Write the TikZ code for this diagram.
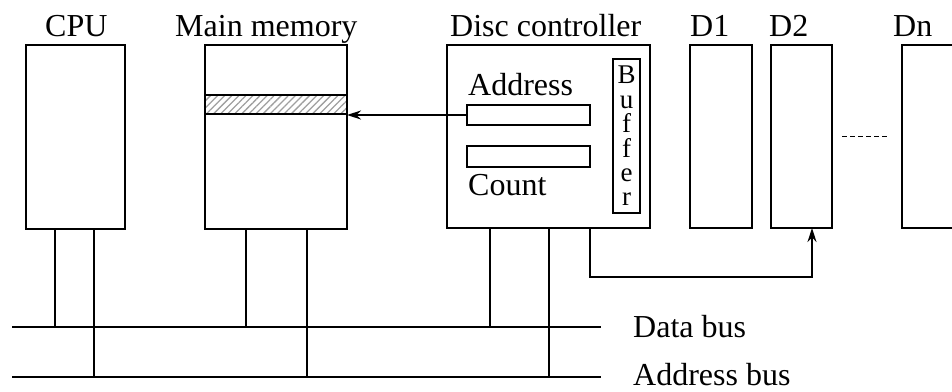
\documentclass[tikz,border=0pt]{standalone}
\usepackage{fontspec}
\setmainfont{Liberation Serif}
\usetikzlibrary{arrows.meta,patterns.meta}
\begin{document}
\begin{tikzpicture}[x=1pt,y=-1pt,
  box/.style={draw,line width=1.5pt,inner sep=0pt,outer sep=0pt},
  lbl/.style={anchor=base west,inner sep=0pt,font=\fontsize{32}{38}\selectfont},
  wire/.style={line width=1.5pt},
  tip/.style={-{Stealth[length=14pt,width=9pt]}}]
\clip (0,0) rectangle (952,391);
\useasboundingbox (0,0) rectangle (952,391);

% units
\node[box,minimum width=99pt,minimum height=184pt] (cpu) at (75.5,137) {};
\node[box,minimum width=142pt,minimum height=184pt] (mem) at (276,137) {};
\node[box,minimum width=203pt,minimum height=183pt] (ctrl) at (548.5,136.5) {};
\node[box,minimum width=62pt,minimum height=183pt] (d1) at (721,136.5) {};
\node[box,minimum width=61pt,minimum height=183pt] (d2) at (801.5,136.5) {};
\node[box,minimum width=62pt,minimum height=183pt] (dn) at (933,136.5) {};

% hatched memory block
\node[box,minimum width=142pt,minimum height=19pt,
  pattern={Lines[angle=45,distance=5pt,line width=1.3pt]},pattern color=gray!75] (slot) at (276,104.5) {};

% controller internals
\node[box,minimum width=123pt,minimum height=20pt] (areg) at (528.5,115) {};
\node[box,minimum width=123pt,minimum height=21pt] (creg) at (528.5,156.5) {};
\node[box,minimum width=27pt,minimum height=154pt] (buf) at (626.5,136) {};
\node[inner sep=0pt,align=center,font=\fontsize{27}{24.4}\selectfont] (buftxt) at (buf.center) {B\\u\\f\\f\\e\\r};

% labels
\node[lbl] (lcpu) at (45,36) {CPU};
\node[lbl] (lmem) at (175,36) {Main memory};
\node[lbl] (lctrl) at (450,36) {Disc controller};
\node[lbl] (ld1) at (690,36) {D1};
\node[lbl] (ld2) at (769,36) {D2};
\node[lbl] (ldn) at (893,36) {Dn};
\node[lbl] (laddr) at (468,95) {Address};
\node[lbl] (lcount) at (468,195) {Count};
\node[lbl] (ldata) at (633,337) {Data bus};
\node[lbl] (labus) at (633,385) {Address bus};

% buses
\coordinate (dbw) at (12,327);
\coordinate (dbe) at (601,327);
\coordinate (abw) at (12,377);
\coordinate (abe) at (601,377);
\draw[wire] (dbw) -- (dbe);
\draw[wire] (abw) -- (abe);

% bus taps
\draw[wire] ([xshift=-20.5pt]cpu.south) -- ([xshift=-20.5pt]cpu.south |- dbw);
\draw[wire] ([xshift=18.5pt]cpu.south) -- ([xshift=18.5pt]cpu.south |- abw);
\draw[wire] ([xshift=-30pt]mem.south) -- ([xshift=-30pt]mem.south |- dbw);
\draw[wire] ([xshift=31pt]mem.south) -- ([xshift=31pt]mem.south |- abw);
\draw[wire] ([xshift=-58.5pt]ctrl.south) -- ([xshift=-58.5pt]ctrl.south |- dbw);
\draw[wire] ([xshift=0.5pt]ctrl.south) -- ([xshift=0.5pt]ctrl.south |- abw);

% transfers
\draw[wire,tip] (areg.west) -- (areg.west -| mem.east);
\coordinate (d2in) at ([xshift=10.5pt]d2.south);
\draw[wire,tip] (areg.east |- ctrl.south) -- ++(0,49) -| (d2in);

% further drives
\draw[line width=1.3pt,dash pattern=on 5pt off 3pt] ([xshift=10pt]d2.east) -- ([xshift=-15pt]dn.west);
\end{tikzpicture}
\end{document}
